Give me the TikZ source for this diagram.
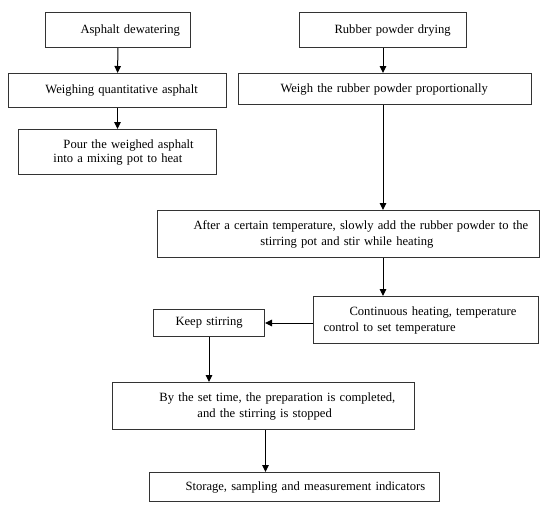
\documentclass[tikz,border=0pt]{standalone}
\usepackage{fontspec}
\setmainfont{Liberation Serif}
\usetikzlibrary{arrows.meta}
\usetikzlibrary{calc}

\begin{document}
\begin{tikzpicture}[
		x=1pt,y=-1pt,
		>={Triangle[length=7pt,width=6.5pt]},
		step_box/.style={draw=black!80,line width=1pt,rectangle,anchor=north west,inner xsep=0pt,inner ysep=0pt,align=left,font=\fontsize{12.6}{16}\selectfont},
		flow/.style={->,line width=1pt}
	]
		\useasboundingbox (0,0) rectangle (550,509);

		% asphalt branch
		\node [step_box,text width=145pt,minimum height=35pt] (dewatering) at (45,12) {\hspace*{35pt}Asphalt dewatering};
		\node [step_box,text width=218pt,minimum height=34pt] (weigh_asphalt) at (8,73) {\hspace*{37pt}Weighing quantitative asphalt};
		\node [step_box,text width=198pt,minimum height=45pt,font=\fontsize{12.6}{14}\selectfont] (pour_asphalt) at (18,129) {\hspace*{45pt}Pour the weighed asphalt\\\hspace*{35pt}into a mixing pot to heat};

		% rubber powder branch
		\node [step_box,text width=167pt,minimum height=35pt] (drying) at (299,12) {\hspace*{35pt}Rubber powder drying};
		\node [step_box,text width=293pt,minimum height=31pt] (weigh_rubber) at (238,73) {\hspace*{42pt}Weigh the rubber powder proportionally};

		% mixing
		\node [step_box,text width=382pt,minimum height=47pt] (add_rubber) at (157,210) {\hspace*{36pt}After a certain temperature, slowly add the rubber powder to the\\\hspace*{103pt}stirring pot and stir while heating};
		\node [step_box,text width=225pt,minimum height=47pt] (heating) at (313,296) {\hspace*{36pt}Continuous heating, temperature\\\hspace*{10pt}control to set temperature};
		\node [step_box,text width=111pt,minimum height=27pt] (keep_stirring) at (153,309) {\hspace*{22pt}Keep stirring};
		\node [step_box,text width=302pt,minimum height=47pt] (completed) at (112,382) {\hspace*{47pt}By the set time, the preparation is completed,\\\hspace*{85pt}and the stirring is stopped};
		\node [step_box,text width=290pt,minimum height=29pt] (storage) at (149,472) {\hspace*{36pt}Storage, sampling and measurement indicators};

		\draw [flow] (dewatering) -- (weigh_asphalt);
		\draw [flow] (weigh_asphalt) -- (weigh_asphalt.south |- pour_asphalt.north);
		\draw [flow] (drying) -- (drying.south |- weigh_rubber.north);
		\draw [flow] (drying.south |- weigh_rubber.south) -- (drying.south |- add_rubber.north);
		\draw [flow] (drying.south |- add_rubber.south) -- (drying.south |- heating.north);
		\draw [flow] (heating.west |- keep_stirring.east) -- (keep_stirring.east);
		\draw [flow] (keep_stirring) -- (keep_stirring.south |- completed.north);
		\draw [flow] ($(completed.south)+(2,0)$) -- ($(completed.south |- storage.north)+(2,0)$);
	\end{tikzpicture}
\end{document}
